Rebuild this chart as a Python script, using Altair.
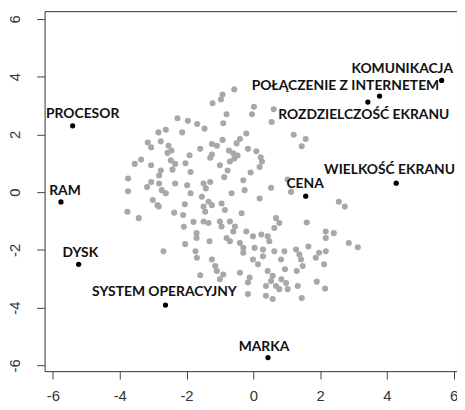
import altair as alt
import pandas as pd

# gray cloud of points
gray_x = [-0.57, -0.92, -0.97, -1.22, 0.02, 0.61, -0.80, -0.04, -0.90, 0.55,
          -2.27, -1.96, -1.68, -1.46, -2.84, -2.62, -2.13, -0.21, -0.40, -3.16,
          -2.77, -3.06, -0.92, -1.24, -1.09, -0.50, -2.54, -2.45, -2.57, -1.59,
          -0.16, -0.73, -0.60, -0.47, -1.24, -1.29, 0.09, 0.22, 0.26, -1.91,
          -3.36, -3.55, -3.06, -2.47, -2.34, -2.03, 0.19, -1.00, -0.70, -0.57,
          -2.77, -2.42, -1.88, -0.77, -0.08, -2.82, -3.75, -0.87, -0.30, -3.06,
          -3.18, -2.82, -2.34, -1.98, -1.49, -1.29, -1.42, 0.53,
          1.21, 1.57, 1.45, 1.03,
          -3.75, -2.74, -2.62, -1.88, -3.01, -2.87, -2.83, -2.05, -3.77, -3.43,
          -2.37, -2.10, -2.08, -1.79, -2.04, -1.70, -1.70, -1.73, -1.69, -2.69,
          -1.54, -1.34, -1.24, -1.49, -1.44, -0.95, -0.85, -0.65, -0.26, 0.19,
          -0.35, -1.49, -1.34, -1.00, -0.95, -0.70, -0.55, -0.60, -0.21, 0.68,
          0.78, 0.63, -0.01, 0.24, 0.43, 0.48, -1.31, -0.80, -0.70, -0.40,
          -0.30, -0.30, 0.04, 0.29, 0.29, 0.63, 0.83, -0.01, 0.14, -1.24,
          -1.14, -1.09, -1.59, -0.40, -0.11, -0.16, 0.43, 0.58, 0.53, 0.68,
          0.38, -0.90, -1.00, -0.16, 0.38, 0.58, 0.78,
          1.13, 2.56, 2.74, 1.60, 2.17, 2.41, 2.17, 2.86, 3.13, 1.65,
          0.93, 1.28, 1.38, 1.43, 1.48, 1.97, 2.17, 1.87, 2.12, 0.95,
          1.30, 0.98, 1.03, 1.33, 1.90, 2.15, 1.45, 0.84]
gray_y = [3.56, 3.38, 3.21, 3.08, 2.96, 2.87, 2.70, 2.70, 2.39, 2.43,
          2.56, 2.47, 2.36, 2.20, 2.07, 2.16, 2.07, 2.03, 1.84, 1.72,
          1.76, 1.55, 1.81, 1.67, 1.61, 1.69, 1.61, 1.44, 1.36, 1.50,
          1.50, 1.44, 1.35, 1.27, 1.30, 1.19, 1.42, 1.21, 1.06, 1.28,
          1.13, 0.98, 0.93, 1.10, 0.98, 1.00, 0.87, 0.93, 1.06, 1.16,
          0.75, 0.78, 0.70, 0.75, 0.68, 0.58, 0.47, 0.52, 0.41, 0.35,
          0.18, 0.30, 0.30, 0.24, 0.30, 0.35, 0.13, 0.15,
          1.99, 1.84, 1.59, 0.44,
          0.03, 0.07, -0.04, -0.04, -0.27, -0.45, -0.50, -0.42, -0.68, -0.90,
          -0.71, -0.79, -1.20, -1.03, -1.80, -1.42, -1.59, -2.05, -2.27, -2.05,
          -0.16, -0.33, -0.45, -0.50, -0.68, -0.39, -0.62, -0.04, 0.07, -0.22,
          -0.73, -1.02, -1.07, -1.02, -1.19, -1.02, -1.19, -1.36, -1.36, -0.90,
          -1.07, -1.24, -1.53, -1.47, -1.53, -1.70, -1.70, -1.59, -1.70, -1.76,
          -1.93, -2.10, -1.93, -1.99, -2.22, -2.05, -2.33, -2.33, -2.50, -2.33,
          -2.56, -2.73, -2.88, -2.79, -2.96, -3.13, -2.73, -2.90, -3.08, -3.25,
          -3.25, -2.85, -3.02, -3.53, -3.59, -3.70, -3.36,
          0.01, -0.33, -0.50, -1.05, -1.36, -1.42, -1.59, -1.76, -1.91, -1.88,
          -2.05, -1.99, -2.16, -2.33, -2.56, -2.10, -2.05, -2.27, -2.50, -2.67,
          -2.73, -3.15, -3.36, -3.25, -3.10, -3.34, -3.67, -3.02]

# labelled variables
names = ["KOMUNIKACJA", "POŁĄCZENIE Z INTERNETEM", "ROZDZIELCZOŚĆ EKRANU",
         "WIELKOŚĆ EKRANU", "CENA", "MARKA", "SYSTEM OPERACYJNY", "DYSK",
         "RAM", "PROCESOR"]
var_x = [5.64, 3.78, 3.43, 4.28, 1.57, 0.44, -2.63, -5.23, -5.76, -5.41]
var_y = [3.87, 3.33, 3.12, 0.31, -0.14, -5.73, -3.91, -2.50, -0.34, 2.30]
# where each label text sits (centre x, baseline y), in data units
label_x = [4.46, 2.76, 3.31, 4.08, 1.55, 0.32, -2.66, -5.18, -5.64, -5.11]
label_y = [4.14, 3.55, 2.54, 0.62, 0.14, -5.49, -3.60, -2.23, -0.10, 2.57]

ticks = [-6, -4, -2, 0, 2, 4, 6]

gray = pd.DataFrame({"x": gray_x, "y": gray_y})
vars_df = pd.DataFrame({"name": names, "x": var_x, "y": var_y,
                        "lx": label_x, "ly": label_y})

xs = alt.Scale(domain=[-6.25, 6.1], nice=False, zero=False)
ys = alt.Scale(domain=[-6.2, 6.27], nice=False, zero=False)

xaxis = alt.Axis(values=ticks, title=None, grid=False, domain=False,
                 tickSize=8, tickColor="#444", labelColor="#333",
                 labelFont="Liberation Sans", labelFontSize=15,
                 labelPadding=10, labelExpr="'' + datum.value")
yaxis = alt.Axis(values=ticks, title=None, grid=False, domain=False,
                 tickSize=8, tickColor="#444", labelColor="#333",
                 labelFont="Liberation Sans", labelFontSize=15,
                 labelAngle=270, labelAlign="center", labelBaseline="bottom",
                 labelPadding=14, labelExpr="'' + datum.value")

pts = alt.Chart(gray).mark_circle(size=38, color="#a8a8a8", opacity=1).encode(
    x=alt.X("x:Q", scale=xs, axis=xaxis),
    y=alt.Y("y:Q", scale=ys, axis=yaxis),
)

blk = alt.Chart(vars_df).mark_circle(size=28, color="#000000", opacity=1).encode(
    x=alt.X("x:Q", scale=xs),
    y=alt.Y("y:Q", scale=ys),
)

txt = alt.Chart(vars_df).mark_text(
    font="Lato", fontWeight="bold", fontSize=14, color="#111111",
    align="center", baseline="alphabetic"
).encode(
    x=alt.X("lx:Q", scale=xs),
    y=alt.Y("ly:Q", scale=ys),
    text="name:N",
)

chart = alt.layer(pts, blk, txt).properties(
    width=417, height=364,
    autosize=alt.AutoSizeParams(type="none"),
    padding={"left": 37, "top": 1, "right": 0, "bottom": 30},
).configure_view(stroke="#333333", strokeWidth=1)

chart.save("out.html", embed_options={"renderer": "svg", "actions": False})
